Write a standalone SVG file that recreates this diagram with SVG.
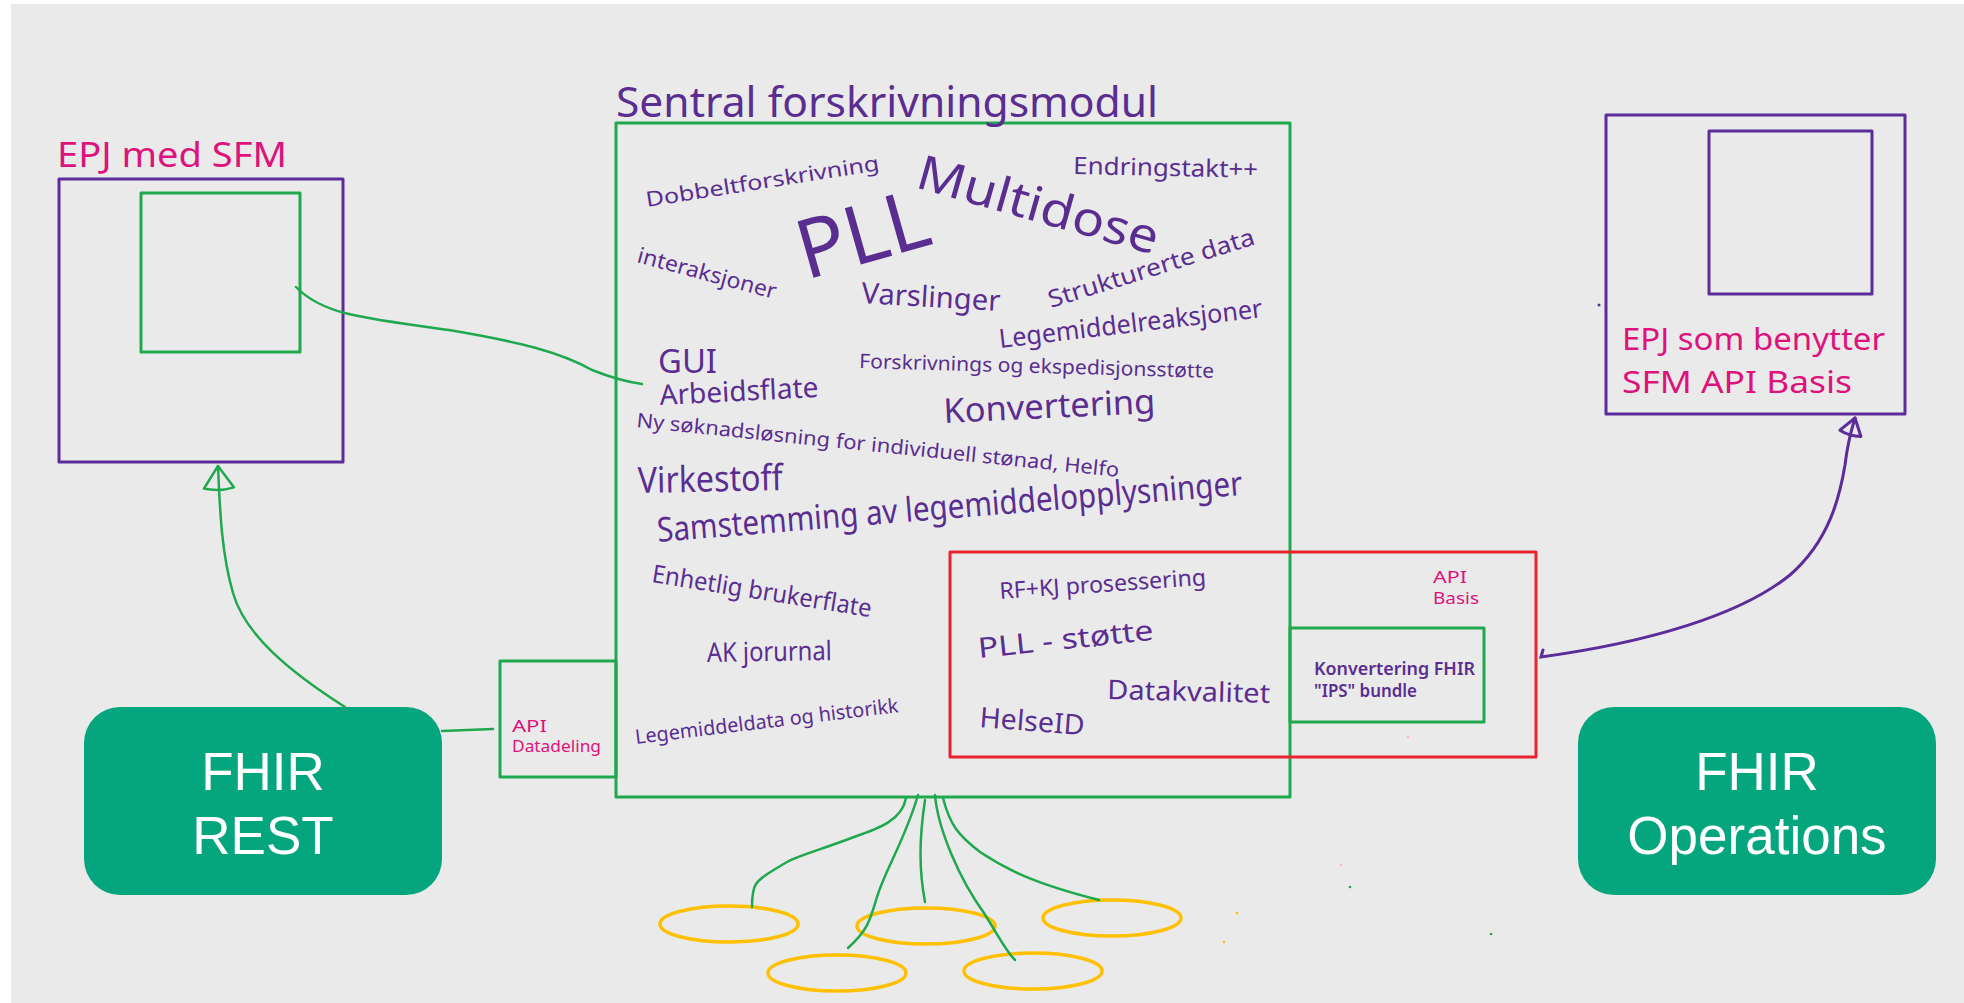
<svg xmlns="http://www.w3.org/2000/svg" width="1964" height="1003" viewBox="0 0 1964 1003">
  <defs>
    <style>
      .bg { fill: #EAEAEA; }
      .box-purple { fill: none; stroke: #5B2C9A; stroke-width: 3; stroke-linejoin: round; }
      .box-green { fill: none; stroke: #20A84E; stroke-width: 3; stroke-linejoin: round; }
      .box-red { fill: none; stroke: #E8242E; stroke-width: 3; stroke-linejoin: round; }
      .db { fill: none; stroke: #FFC000; stroke-width: 3.5; }
      .wire-green { fill: none; stroke: #20A84E; stroke-width: 2.5; stroke-linecap: round; }
      .wire-purple { fill: none; stroke: #5B2C9A; stroke-width: 3; stroke-linecap: round; }
      .hw { font-family: "Noto Sans", "DejaVu Sans", sans-serif; fill: #5A2D91; }
      .pink { fill: #DD137B; }
      .btn { fill: #05A67E; }
      .btn-text { font-family: "Liberation Sans", Arial, sans-serif; font-size: 53px; fill: #FFFFFF; text-anchor: middle; }
    </style>
    <marker id="open-green" markerUnits="userSpaceOnUse" markerWidth="40" markerHeight="40" viewBox="-30 -20 34 40" refX="0" refY="0" orient="auto">
      <path d="M0,0 L-22,-15 Q-26,0 -22,15 Z" fill="none" stroke="#20A84E" stroke-width="2.5" stroke-linejoin="round"/>
    </marker>
    <marker id="open-purple" markerUnits="userSpaceOnUse" markerWidth="30" markerHeight="30" viewBox="-24 -15 28 30" refX="0" refY="0" orient="auto">
      <path d="M0,0 L-16,-11 Q-19,0 -16,11 Z" fill="none" stroke="#5B2C9A" stroke-width="3" stroke-linejoin="round"/>
    </marker>
  </defs>

  <!-- whiteboard -->
  <rect class="bg" x="11" y="4" width="1953" height="999"/>

  <!-- EPJ with embedded SFM -->
  <g id="epj-sfm">
    <rect class="box-purple" x="59" y="179" width="284" height="283"/>
    <rect class="box-green" x="141" y="193" width="159" height="159"/>
    <text class="hw pink" x="57" y="167" font-size="34" textLength="230" lengthAdjust="spacingAndGlyphs">EPJ med SFM</text>
  </g>

  <!-- Central prescription module -->
  <g id="sfm">
    <rect class="box-green" x="616" y="123" width="674" height="674"/>
    <text class="hw" x="616" y="117" font-size="42" textLength="542" lengthAdjust="spacingAndGlyphs">Sentral forskrivningsmodul</text>
    <text class="hw" x="647" y="207" font-size="21" textLength="236" lengthAdjust="spacingAndGlyphs" transform="rotate(-9 647 207)">Dobbeltforskrivning</text>
    <text class="hw" x="914" y="187" font-size="48" textLength="249" lengthAdjust="spacingAndGlyphs" transform="rotate(15.8 914 187)">Multidose</text>
    <text class="hw" x="806" y="280" font-size="82" textLength="134" lengthAdjust="spacingAndGlyphs" transform="rotate(-15.8 806 280)">PLL</text>
    <text class="hw" x="1073" y="174" font-size="24" textLength="185" lengthAdjust="spacingAndGlyphs" transform="rotate(1.2 1073 174)">Endringstakt++</text>
    <text class="hw" x="636" y="262" font-size="22" textLength="143" lengthAdjust="spacingAndGlyphs" transform="rotate(15 636 262)">interaksjoner</text>
    <text class="hw" x="861" y="303" font-size="29" textLength="139" lengthAdjust="spacingAndGlyphs" transform="rotate(3.3 861 303)">Varslinger</text>
    <text class="hw" x="1051" y="308" font-size="24" textLength="215" lengthAdjust="spacingAndGlyphs" transform="rotate(-17.3 1051 308)">Strukturerte data</text>
    <text class="hw" x="1000" y="348" font-size="26" textLength="265" lengthAdjust="spacingAndGlyphs" transform="rotate(-6.7 1000 348)">Legemiddelreaksjoner</text>
    <text class="hw" x="658" y="373" font-size="32" textLength="59" lengthAdjust="spacingAndGlyphs">GUI</text>
    <text class="hw" x="660" y="405" font-size="28" textLength="159" lengthAdjust="spacingAndGlyphs" transform="rotate(-2.9 660 405)">Arbeidsflate</text>
    <text class="hw" x="859" y="368" font-size="20" textLength="355" lengthAdjust="spacingAndGlyphs" transform="rotate(1.6 859 368)">Forskrivnings og ekspedisjonsstøtte</text>
    <text class="hw" x="944" y="423" font-size="34" textLength="212" lengthAdjust="spacingAndGlyphs" transform="rotate(-2.7 944 423)">Konvertering</text>
    <text class="hw" x="636" y="427" font-size="20" textLength="485" lengthAdjust="spacingAndGlyphs" transform="rotate(5.9 636 427)">Ny søknadsløsning for individuell stønad, Helfo</text>
    <text class="hw" x="638" y="493" font-size="36" textLength="145" lengthAdjust="spacingAndGlyphs" transform="rotate(-1.2 638 493)">Virkestoff</text>
    <text class="hw" x="658" y="542" font-size="34" textLength="587" lengthAdjust="spacingAndGlyphs" transform="rotate(-4.6 658 542)">Samstemming av legemiddelopplysninger</text>
    <text class="hw" x="651" y="582" font-size="25" textLength="222" lengthAdjust="spacingAndGlyphs" transform="rotate(9.1 651 582)">Enhetlig brukerflate</text>
    <text class="hw" x="707" y="662" font-size="27" textLength="125" lengthAdjust="spacingAndGlyphs" transform="rotate(-0.9 707 662)">AK jorurnal</text>
    <text class="hw" x="636" y="744" font-size="20" textLength="265" lengthAdjust="spacingAndGlyphs" transform="rotate(-6.9 636 744)">Legemiddeldata og historikk</text>
  </g>

  <!-- Core services area -->
  <g id="core-services">
    <rect class="box-red" x="950" y="552" width="586" height="205"/>
    <text class="hw" x="1000" y="599" font-size="23" textLength="207" lengthAdjust="spacingAndGlyphs" transform="rotate(-3.9 1000 599)">RF+KJ prosessering</text>
    <text class="hw" x="979" y="658" font-size="28" textLength="176" lengthAdjust="spacingAndGlyphs" transform="rotate(-5.9 979 658)">PLL - støtte</text>
    <text class="hw" x="1107" y="699" font-size="27" textLength="163" lengthAdjust="spacingAndGlyphs" transform="rotate(1.4 1107 699)">Datakvalitet</text>
    <text class="hw" x="979" y="727" font-size="28" textLength="105" lengthAdjust="spacingAndGlyphs" transform="rotate(4.4 979 727)">HelseID</text>
  </g>

  <!-- API Basis -->
  <g id="api-basis">
    <text class="hw pink" x="1433" y="583" font-size="17" textLength="34" lengthAdjust="spacingAndGlyphs">API</text>
    <text class="hw pink" x="1433" y="604" font-size="17" textLength="46" lengthAdjust="spacingAndGlyphs">Basis</text>
    <rect class="box-green" x="1290" y="628" width="194" height="94"/>
    <text class="hw" x="1314" y="675" font-size="17" font-weight="600" textLength="161" lengthAdjust="spacingAndGlyphs">Konvertering FHIR</text>
    <text class="hw" x="1314" y="697" font-size="17" font-weight="600" textLength="103" lengthAdjust="spacingAndGlyphs">"IPS" bundle</text>
  </g>

  <!-- API Datadeling -->
  <g id="api-datadeling">
    <rect class="box-green" x="500" y="661" width="116" height="116"/>
    <text class="hw pink" x="512" y="732" font-size="17" textLength="35" lengthAdjust="spacingAndGlyphs">API</text>
    <text class="hw pink" x="512" y="752" font-size="17" textLength="89" lengthAdjust="spacingAndGlyphs">Datadeling</text>
  </g>

  <!-- EPJ using SFM API Basis -->
  <g id="epj-basis">
    <rect class="box-purple" x="1606" y="115" width="299" height="299"/>
    <rect class="box-purple" x="1709" y="131" width="163" height="163"/>
    <text class="hw pink" x="1622" y="350" font-size="30" textLength="263" lengthAdjust="spacingAndGlyphs">EPJ som benytter</text>
    <text class="hw pink" x="1622" y="393" font-size="30" textLength="230" lengthAdjust="spacingAndGlyphs">SFM API Basis</text>
  </g>

  <!-- FHIR REST -->
  <g id="fhir-rest">
    <rect class="btn" x="84" y="707" width="358" height="188" rx="36" ry="36"/>
    <text class="btn-text" x="263" y="790">FHIR</text>
    <text class="btn-text" x="263" y="854">REST</text>
  </g>

  <!-- FHIR Operations -->
  <g id="fhir-operations">
    <rect class="btn" x="1578" y="707" width="358" height="188" rx="36" ry="36"/>
    <text class="btn-text" x="1757" y="790">FHIR</text>
    <text class="btn-text" x="1757" y="854">Operations</text>
  </g>

  <!-- Data sources -->
  <g id="data-sources">
    <ellipse class="db" cx="729" cy="924" rx="69" ry="18"/>
    <ellipse class="db" cx="837" cy="973" rx="69" ry="18"/>
    <ellipse class="db" cx="926" cy="926" rx="69" ry="18"/>
    <ellipse class="db" cx="1033" cy="971" rx="69" ry="18"/>
    <ellipse class="db" cx="1112" cy="918" rx="69" ry="18"/>
  </g>

  <!-- Connectors -->
  <g id="connectors">
    <path class="wire-green" d="M296,287 C322,314 360,318 449,330 C520,342 560,352 592,370 C612,378 628,382 642,384"/>
    <path class="wire-green" d="M345,707 C290,672 245,635 233,593 C222,555 220,515 218,466" marker-end="url(#open-green)"/>
    <path class="wire-green" d="M442,731 L493,729"/>
    <path class="wire-purple" d="M1543,650 L1541,657 C1650,642 1740,615 1790,575 C1830,540 1840,495 1845,465 C1848,440 1852,428 1855,418" marker-end="url(#open-purple)"/>
    <path class="wire-green" d="M906,798 C902,820 880,828 854,837 C820,850 800,855 787,862 C770,872 760,878 756,884 C752,890 752,900 752,907"/>
    <path class="wire-green" d="M918,795 C905,840 885,870 877,897 C870,920 868,930 848,948"/>
    <path class="wire-green" d="M925,800 C919,840 919,870 925,902"/>
    <path class="wire-green" d="M935,795 C938,830 960,880 984,913 C998,935 1005,950 1015,960"/>
    <path class="wire-green" d="M943,798 C950,825 958,835 980,852 C1010,872 1040,885 1099,900"/>
  </g>

  <!-- stray marker specks -->
  <g id="specks">
    <circle cx="1599" cy="305" r="1.5" fill="#5B2C9A"/>
    <circle cx="1408" cy="737" r="1.2" fill="#F3B5CF"/>
    <circle cx="1341" cy="865" r="1.2" fill="#F3B5CF"/>
    <circle cx="1350" cy="887" r="1.3" fill="#20A84E"/>
    <circle cx="1491" cy="934" r="1.3" fill="#20A84E"/>
    <circle cx="1237" cy="913" r="1.3" fill="#FFC000"/>
    <circle cx="1224" cy="942" r="1.3" fill="#FFC000"/>
  </g>
</svg>
